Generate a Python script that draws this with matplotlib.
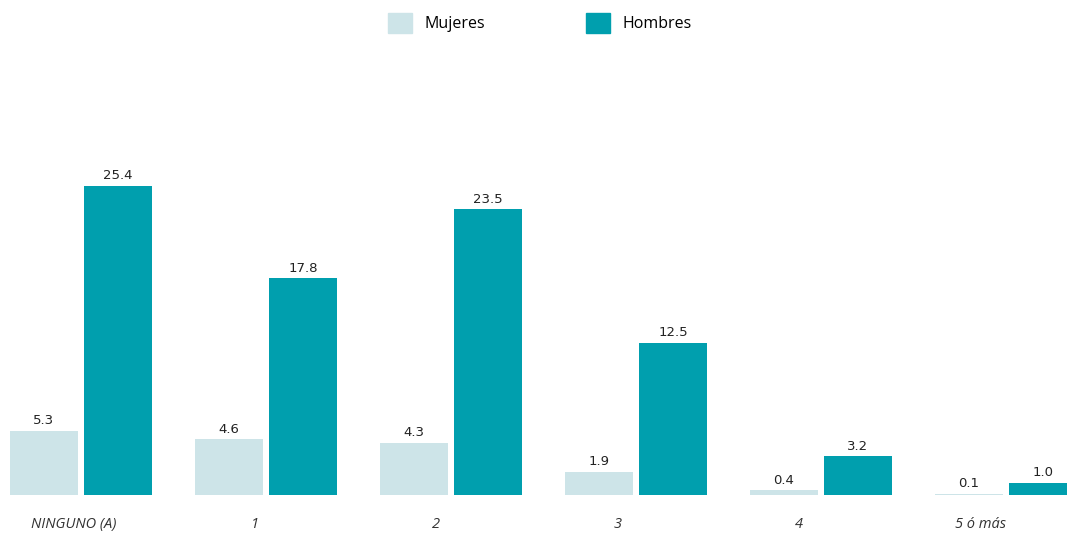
import numpy as np
import matplotlib.pyplot as plt
from matplotlib.patches import Patch

# data
categorias = ['NINGUNO (A)', '1', '2', '3', '4', '5 ó más']
mujeres = [5.3, 4.6, 4.3, 1.9, 0.4, 0.1]
hombres = [25.4, 17.8, 23.5, 12.5, 3.2, 1.0]

c_muj = '#cde4e8'
c_hom = '#009fae'

fig = plt.figure(figsize=(10.67, 5.34), dpi=100)
ax = fig.add_axes([0, 0.073, 1, 0.827])

x = np.arange(len(categorias))
w = 0.3676
off = 0.2

b1 = ax.bar(x - off, mujeres, w, color=c_muj)
b2 = ax.bar(x + off, hombres, w, color=c_hom)

for bars, vals in [(b1, mujeres), (b2, hombres)]:
    for b, v in zip(bars, vals):
        ax.annotate(f'{v:.1f}', (b.get_x() + b.get_width() / 2, v),
                    xytext=(0, 2.5), textcoords='offset points',
                    ha='center', va='bottom', fontsize=9.5,
                    family='DejaVu Sans', color='#222222')

ax.set_xlim(-0.4378, 5.3298)
ax.set_ylim(0, 36.29)
ax.set_xticks(x - 0.04 - 0.02 * x)
ax.set_xticklabels(categorias, fontstyle='italic', fontsize=10.5,
                   family='Open Sans', color='#333333')
ax.tick_params(axis='x', length=0, pad=16)
ax.set_yticks([])
for s in ax.spines.values():
    s.set_visible(False)

handles = [Patch(color=c_muj, label='Mujeres'), Patch(color=c_hom, label='Hombres')]
fig.legend(handles=handles, loc='upper center', bbox_to_anchor=(0.506, 1.0),
           ncol=2, frameon=False,
           prop={'family': 'Open Sans', 'size': 11.5, 'weight': 'medium'},
           handlelength=1.5, handleheight=1.6, handletextpad=0.8,
           columnspacing=6.3, borderaxespad=0.4)

fig.savefig('out.png', dpi=100)
